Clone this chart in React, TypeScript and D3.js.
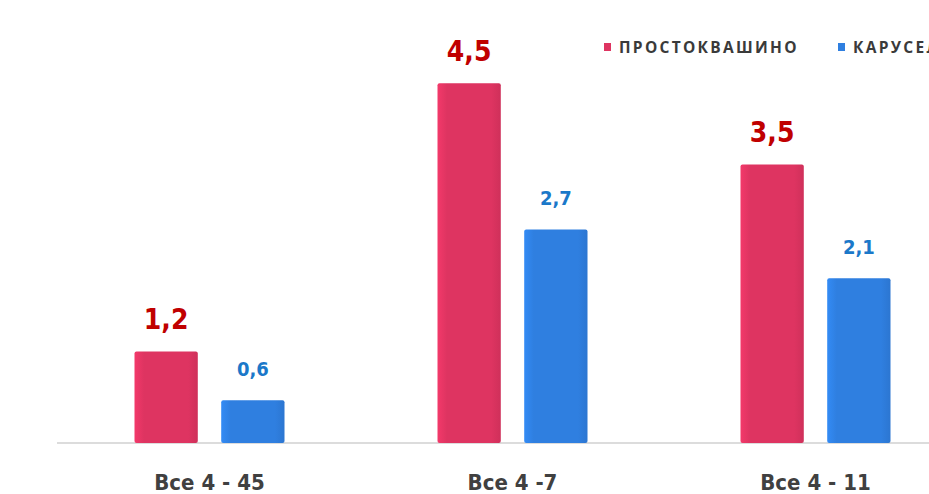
import { useMemo } from 'react';
import * as d3 from 'd3';

const WIDTH = 929;
const HEIGHT = 494;

const categories = ['Все 4 - 45', 'Все 4 -7', 'Все 4 - 11'];
const seriesNames = ['ПРОСТОКВАШИНО', 'КАРУСЕЛЬ'];
const prostokvashino = [1.2, 4.5, 3.5];
const karusel = [0.6, 2.7, 2.1];

const BAR_COLORS = ['#de3461', '#2f7fe0'];
const LABEL_COLORS = ['#c00000', '#1b78c9'];
const LABEL_SIZES = [28, 20];
const LABEL_GAPS = [22, 24];

const FONT = "'Liberation Sans Narrow', 'DejaVu Sans Condensed', 'Open Sans', sans-serif";

const App = () => {
  // axis line sits a bit above the scale's zero (the original has a 3D floor)
  const axisY = 443;

  const xScale = useMemo(
    () => d3.scaleBand<string>().domain(categories).range([58, 967]).padding(0),
    []
  );
  const xInner = useMemo(
    () => d3.scaleBand<string>().domain(seriesNames).range([-75, 75]).paddingInner(0.27),
    []
  );
  const yScale = useMemo(
    () => d3.scaleLinear().domain([0, 5]).range([449, 42.5]),
    []
  );

  const series = [prostokvashino, karusel];
  const fmt = (v: number) => d3.format('.1f')(v).replace('.', ',');

  return (
    <div style={{ position: 'absolute', left: 0, top: 0 }}>
      <svg width={WIDTH} height={HEIGHT} style={{ display: 'block', background: '#fff' }}>
        <defs>
          {BAR_COLORS.map((c, i) => (
            <linearGradient key={i} id={`g${i}`} x1="0" x2="1" y1="0" y2="0">
              <stop offset="0" stopColor={d3.color(c)!.brighter(0.25).toString()} />
              <stop offset="0.15" stopColor={c} />
              <stop offset="0.85" stopColor={c} />
              <stop offset="1" stopColor={d3.color(c)!.darker(0.2).toString()} />
            </linearGradient>
          ))}
        </defs>

        <line x1={57} x2={WIDTH} y1={axisY} y2={axisY} stroke="#d0d0d0" strokeWidth={1.5} />

        {categories.map((cat, ci) => {
          const cx = (xScale(cat) ?? 0) + xScale.bandwidth() / 2;
          return (
            <g key={cat}>
              {series.map((vals, si) => {
                const name = seriesNames[si];
                const x = cx + (xInner(name) ?? 0);
                const y = yScale(vals[ci]);
                const w = xInner.bandwidth();
                return (
                  <g key={name}>
                    <rect
                      x={x}
                      y={y}
                      width={w}
                      height={axisY - y}
                      fill={`url(#g${si})`}
                      rx={2}
                    />
                    <text
                      x={x + w / 2}
                      y={y - LABEL_GAPS[si]}
                      textAnchor="middle"
                      fontFamily={FONT}
                      fontWeight="bold"
                      fontSize={LABEL_SIZES[si]}
                      fill={LABEL_COLORS[si]}
                    >
                      {fmt(vals[ci])}
                    </text>
                  </g>
                );
              })}
              <text
                x={cx}
                y={490}
                textAnchor="middle"
                fontFamily={FONT}
                fontWeight="bold"
                fontSize={22}
                fill="#404040"
              >
                {cat}
              </text>
            </g>
          );
        })}

        {/* legend, runs off the right edge like the original */}
        {seriesNames.map((name, si) => {
          const lx = [604, 838][si];
          return (
            <g key={name} transform={`translate(${lx},47)`}>
              <rect x={0} y={-4} width={7} height={8} fill={BAR_COLORS[si]} />
              <text
                x={15}
                y={5.5}
                fontFamily="'Open Sans', sans-serif"
                fontWeight="bold"
                fontSize={15.5}
                letterSpacing={2.3}
                fill="#3a3a3a"
              >
                {name}
              </text>
            </g>
          );
        })}
      </svg>
    </div>
  );
};

export default App;
